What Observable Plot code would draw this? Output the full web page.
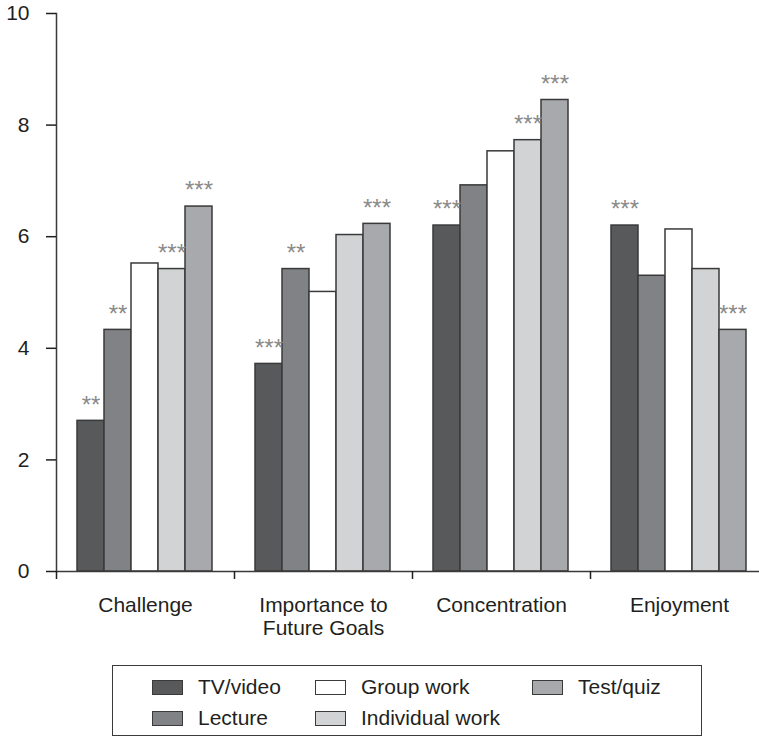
<!DOCTYPE html>
<html>
<head>
<meta charset="utf-8">
<script src="https://cdn.jsdelivr.net/npm/d3@7"></script>
<script src="https://cdn.jsdelivr.net/npm/@observablehq/plot@0.6"></script>
<style>
  html, body { margin: 0; padding: 0; background: #fff; }
  body { width: 759px; height: 737px; position: relative; overflow: hidden; font-family: "Liberation Sans", Arial, sans-serif; color: #231f20; }
  #chart { position: absolute; left: 0; top: 0; }
  #legend { position: absolute; left: 112px; top: 665px; width: 590px; height: 71px; box-sizing: border-box; border: 1.5px solid #3a3a3a; }
  .item { position: absolute; display: flex; align-items: center; font-size: 21px; height: 16px; }
  .sw { width: 31px; height: 15px; box-sizing: border-box; border: 1.5px solid #3a3a3a; margin-right: 15px; }
</style>
</head>
<body>
<div id="chart"></div>
<div id="legend"></div>
<script>
// ---- data ----
const categories = ["Challenge", "Importance to\nFuture Goals", "Concentration", "Enjoyment"];
const series = ["TV/video", "Lecture", "Group work", "Individual work", "Test/quiz"];
const tvVideo    = [2.70, 3.72, 6.20, 6.20];
const lecture    = [4.33, 5.42, 6.92, 5.30];
const groupWork  = [5.52, 5.01, 7.53, 6.13];
const individual = [5.42, 6.03, 7.73, 5.42];
const testQuiz   = [6.54, 6.23, 8.45, 4.33];
const sigTv      = ["**", "***", "***", "***"];
const sigLecture = ["**", "**", "", ""];
const sigGroup   = ["", "", "", ""];
const sigIndiv   = ["***", "", "***", ""];
const sigTest    = ["***", "***", "***", "***"];
const yTicks = [0, 2, 4, 6, 8, 10];
const colors = ["#58595b", "#808285", "#ffffff", "#d1d3d4", "#a7a9ac"];

const values = [tvVideo, lecture, groupWork, individual, testQuiz];
const sigs = [sigTv, sigLecture, sigGroup, sigIndiv, sigTest];
const rows = [];
categories.forEach((c, i) => {
  series.forEach((s, j) => {
    rows.push({category: c, series: s, value: values[j][i], sig: sigs[j][i]});
  });
});

const stroke = "#3a3a3a";
const chart = Plot.plot({
  width: 759,
  height: 660,
  marginTop: 13,
  marginBottom: 89,
  marginLeft: 56,
  marginRight: 0,
  style: {fontFamily: "Liberation Sans, Arial, sans-serif", fontSize: "21px", color: "#231f20", background: "#fff"},
  fx: {domain: categories, range: [56, 768], padding: 0},
  x: {domain: series, range: [76, 213], padding: 0, axis: null},
  y: {domain: [0, 10]},
  color: {domain: series, range: colors},
  marks: [
    Plot.barY(rows, {fx: "category", x: "series", y: "value", fill: "series", stroke: stroke, strokeWidth: 1.5, inset: 0}),
    Plot.text(rows.filter(d => d.sig), {fx: "category", x: "series", y: "value", text: "sig", dy: -16, fill: "#8a8a8a", fontSize: 24, fontWeight: 300}),
    Plot.ruleY([0], {stroke: stroke, strokeWidth: 1.5}),
    Plot.frame({anchor: "left", facetAnchor: "left", stroke: stroke, strokeWidth: 1.5}),
    Plot.axisY({ticks: yTicks, tickSize: 10, tickPadding: 17, fontSize: 21, label: null, strokeWidth: 1.5}),
    Plot.axisFx({anchor: "bottom", tickSize: 8, dx: -89, text: null, label: null, strokeWidth: 1.5}),
    Plot.axisFx({anchor: "bottom", tickSize: 0, tickPadding: 23, fontSize: 21, lineHeight: 1.14, label: null})
  ]
});
document.getElementById("chart").appendChild(chart);

// ---- legend ----
const legendPos = [
  {left: 39, top: 13}, {left: 39, top: 44},
  {left: 202, top: 13}, {left: 202, top: 44},
  {left: 419, top: 13}
];
const legend = document.getElementById("legend");
series.forEach((s, i) => {
  const item = document.createElement("div");
  item.className = "item";
  item.style.left = legendPos[i].left + "px";
  item.style.top = legendPos[i].top + "px";
  const sw = document.createElement("div");
  sw.className = "sw";
  sw.style.background = colors[i];
  const t = document.createElement("span");
  t.textContent = s;
  item.appendChild(sw);
  item.appendChild(t);
  legend.appendChild(item);
});
</script>
</body>
</html>
